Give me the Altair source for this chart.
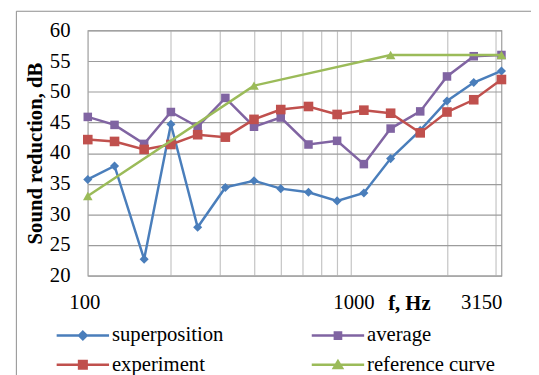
import altair as alt
import pandas as pd

freqs = [100, 125, 160, 200, 250, 315, 400, 500, 630, 800, 1000, 1250, 1600, 2000, 2500, 3150]
superposition = [35.7, 37.9, 22.7, 44.7, 27.9, 34.4, 35.5, 34.2, 33.6, 32.2, 33.5, 39.1, 43.7, 48.5, 51.5, 53.4]
average = [45.9, 44.6, 41.5, 46.7, 44.3, 49.0, 44.3, 45.8, 41.4, 42.0, 38.2, 44.0, 46.8, 52.5, 55.8, 56.0]
experiment = [42.2, 41.9, 40.6, 41.4, 43.0, 42.6, 45.5, 47.1, 47.6, 46.3, 47.0, 46.5, 43.3, 46.7, 48.7, 52.0]
ref_freqs = [100, 400, 1250, 3150]
reference = [33, 51, 56, 56]

# drawing order
series_names = ["superposition", "average", "experiment", "reference curve"]
colors = ["#4A7EBB", "#8064A2", "#C0504D", "#9BBB59"]
shapes = ["diamond", "square", "square", "triangle-up"]
sizes = [85, 75, 95, 95]
# legend order (legend fills column by column)
legend_names = ["superposition", "experiment", "average", "reference curve"]
legend_colors = ["#4A7EBB", "#C0504D", "#8064A2", "#9BBB59"]
legend_paths = [
    "M-7.6,0H7.6M0,-1.1L1.1,0L0,1.1L-1.1,0Z",
    "M-7.6,0H7.6M-1.1,-1.1H1.1V1.1H-1.1Z",
    "M-7.6,0H7.6M-0.9,-0.9H0.9V0.9H-0.9Z",
    "M-7.6,0H7.6M0,-1.1L1.2,0.9H-1.2Z",
]
grid_x = [200, 300, 400, 500, 600, 700, 800, 900, 2000, 3000]
y_ticks = [20, 25, 30, 35, 40, 45, 50, 55, 60]
x_labels = ["100", "1000", "3150"]
x_label_vals = [100, 1000, 3150]
x_label_dx = [-3, -10, -20]

W, H = 420, 249
FONT = "Liberation Serif"
FS = 21

frames = []
for name, xs, ys in [
    ("superposition", freqs, superposition),
    ("average", freqs, average),
    ("experiment", freqs, experiment),
    ("reference curve", ref_freqs, reference),
]:
    frames.append(pd.DataFrame({"f": xs, "v": ys, "series": name}))
df = pd.concat(frames, ignore_index=True)

xscale = alt.Scale(type="log", domain=[100, 3150], nice=False)
yscale = alt.Scale(domain=[20, 60], nice=False)

xaxis = alt.Axis(
    values=grid_x, labels=False, ticks=False, domain=False,
    gridColor="#c4c4c4", gridWidth=1.2, title="f, Hz",
    titleFont=FONT, titleFontSize=FS, titleFontWeight="bold", titleColor="black",
    titleX=326, titleY=28, titleBaseline="middle", titleAlign="center")
yaxis = alt.Axis(
    values=y_ticks, ticks=False, tickSize=0, domain=False, labelOverlap=False,
    gridColor="#9c9c9c", gridWidth=1.2,
    labelFont=FONT, labelFontSize=FS, labelColor="black", labelPadding=18,
    title="Sound reduction, dB", titleFont=FONT, titleFontSize=FS,
    titleFontWeight="bold", titleColor="black", titlePadding=4)


def X(field="f:Q"):
    return alt.X(field, scale=xscale, axis=xaxis)


def Y(field="v:Q"):
    return alt.Y(field, scale=yscale, axis=yaxis)


frame = alt.Chart(pd.DataFrame({"a": [0]})).mark_rect(
    filled=False, stroke="#8c8c8c", strokeWidth=1
).encode(x=alt.value(-72.5), x2=alt.value(480), y=alt.value(-19.5), y2=alt.value(420))

layers = [frame]
base = alt.Chart(df)

for name, c, shp, sz in zip(series_names, colors, shapes, sizes):
    sub = base.transform_filter(alt.datum.series == name)
    layers.append(sub.mark_line(color=c, strokeWidth=2.5).encode(x=X(), y=Y()))
    layers.append(sub.mark_point(color=c, filled=True, opacity=1, shape=shp, size=sz).encode(x=X(), y=Y()))

leg = alt.Legend(
    orient="none", legendX=-40, legendY=299, columns=2,
    title=None, padding=0, labelFont=FONT, labelFontSize=FS,
    labelColor="black", symbolSize=49, symbolStrokeWidth=2.5,
    symbolOffset=24.5, labelOffset=19, columnPadding=81,
    rowPadding=8, symbolOpacity=1)

legend_layer = base.mark_point(filled=True, opacity=0, strokeWidth=2.5).encode(
    x=X(), y=Y(),
    fill=alt.Fill("series:N", scale=alt.Scale(domain=legend_names, range=legend_colors), legend=leg),
    stroke=alt.Stroke("series:N", scale=alt.Scale(domain=legend_names, range=legend_colors), legend=leg),
    shape=alt.Shape("series:N", scale=alt.Scale(domain=legend_names, range=legend_paths), legend=leg),
)
layers.append(legend_layer)

for lab, val, dx in zip(x_labels, x_label_vals, x_label_dx):
    layers.append(
        alt.Chart(pd.DataFrame({"f": [val], "t": [lab]})).mark_text(
            font=FONT, fontSize=FS, color="black", baseline="middle", align="center", dx=dx
        ).encode(x=X(), y=alt.value(277), text="t:N")
    )

chart = alt.layer(*layers).properties(
    width=W, height=H,
    autosize=alt.AutoSizeParams(type="none"),
    padding={"left": 81, "top": 20, "right": 30, "bottom": 98},
).configure(
    background="white", font=FONT
).configure_view(
    stroke="#9c9c9c", strokeWidth=1.2
).configure_legend(
    labelFont=FONT, labelFontSize=FS, labelColor="black"
)

chart.save("out.html", embed_options={"renderer": "svg", "actions": False})
